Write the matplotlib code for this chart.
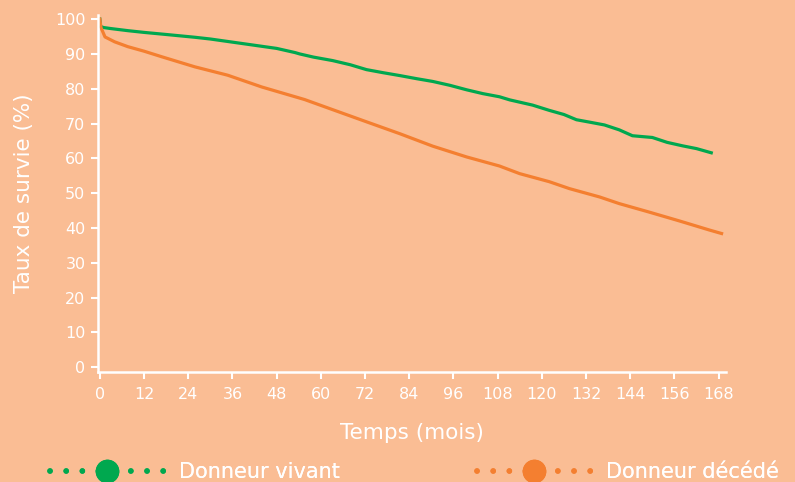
import matplotlib
matplotlib.use("Agg")
import matplotlib.pyplot as plt
from matplotlib.lines import Line2D

plt.rcParams['font.family'] = ['DejaVu Sans']

# Data (months, survival %)
vivant_mois = [0, 0.2, 1, 3, 7.6, 12, 18, 25.8, 30, 36, 44, 48, 53, 54.3, 58, 63.2, 68, 72.4, 77, 81.4, 86, 90.4, 95, 99.6, 104, 108.5,
               111.3, 117.5, 122, 126, 129.4, 133, 137, 141, 144.6, 150, 154, 158.2, 162, 166]
vivant_val = [100, 97.9, 97.6, 97.3, 96.7, 96.2, 95.6, 94.8, 94.3, 93.4, 92.2, 91.6, 90.4, 90.0, 89.1, 88.1, 86.9, 85.5, 84.6, 83.8, 82.9, 82.1, 81.0, 79.7, 78.6, 77.7,
              76.8, 75.3, 73.8, 72.6, 71.1, 70.4, 69.6, 68.2, 66.5, 66.0, 64.6, 63.6, 62.8, 61.6]

decede_mois = [0, 0.3, 1.4, 4, 7.6, 12, 16.8, 25.8, 34.7, 44, 55.6, 63.2, 72.4, 81.4, 90.4, 99.6, 108.5, 114, 122, 127.5,
               135.7, 141, 149, 157.4, 165.5, 168.8]
decede_val = [100, 97.6, 94.9, 93.5, 92.1, 90.8, 89.2, 86.3, 83.9, 80.5, 76.9, 74.0, 70.5, 67.1, 63.5, 60.4, 57.8, 55.6, 53.3, 51.3,
              48.9, 47.0, 44.6, 42.0, 39.4, 38.4]

x_ticks = list(range(0, 169, 12))
y_ticks = list(range(0, 101, 10))

series_labels = ["Donneur vivant", "Donneur décédé"]

BG = "#FABD94"
GREEN = "#00A84F"
ORANGE = "#F47F30"
WHITE = "white"

fig = plt.figure(figsize=(7.95, 4.82), dpi=100, facecolor=BG)
ax = fig.add_axes([98 / 795, (482 - 372) / 482, 628 / 795, 357 / 482])
ax.set_facecolor(BG)

ax.plot(vivant_mois, vivant_val, color=GREEN, lw=2.3, solid_joinstyle='round')
ax.plot(decede_mois, decede_val, color=ORANGE, lw=2.3, solid_joinstyle='round')

ax.set_xlim(-0.5, 170)
ax.set_ylim(-1.4, 101.2)
ax.set_xticks(x_ticks)
ax.set_yticks(y_ticks)

for s in ['top', 'right']:
    ax.spines[s].set_visible(False)
for s in ['left', 'bottom']:
    ax.spines[s].set_color(WHITE)
    ax.spines[s].set_linewidth(1.8)

ax.tick_params(axis='both', colors=WHITE, width=1.5, length=5, labelsize=11.5, pad=4)
ax.tick_params(axis='x', pad=6)

ax.set_xlabel("Temps (mois)", color=WHITE, fontsize=15.5, labelpad=15)
ax.set_ylabel("Taux de survie (%)", color=WHITE, fontsize=15.5, labelpad=15)

for i, (c, lab) in enumerate(zip([GREEN, ORANGE], series_labels)):
    h = Line2D([0], [0], color=c, lw=4, ls=(0, (0.01, 2.9)), dash_capstyle='round',
               marker='o', markersize=16, markerfacecolor=c, markeredgecolor=c)
    x0 = [50, 477][i] / 795
    leg = fig.legend([h], [lab], loc='center left', bbox_to_anchor=(x0, 10 / 482),
                     frameon=False, handlelength=5.5, handletextpad=0.7, borderpad=0,
                     borderaxespad=0, fontsize=15, labelcolor=WHITE)
    fig.add_artist(leg)

fig.savefig("out.png", dpi=100, facecolor=BG)
